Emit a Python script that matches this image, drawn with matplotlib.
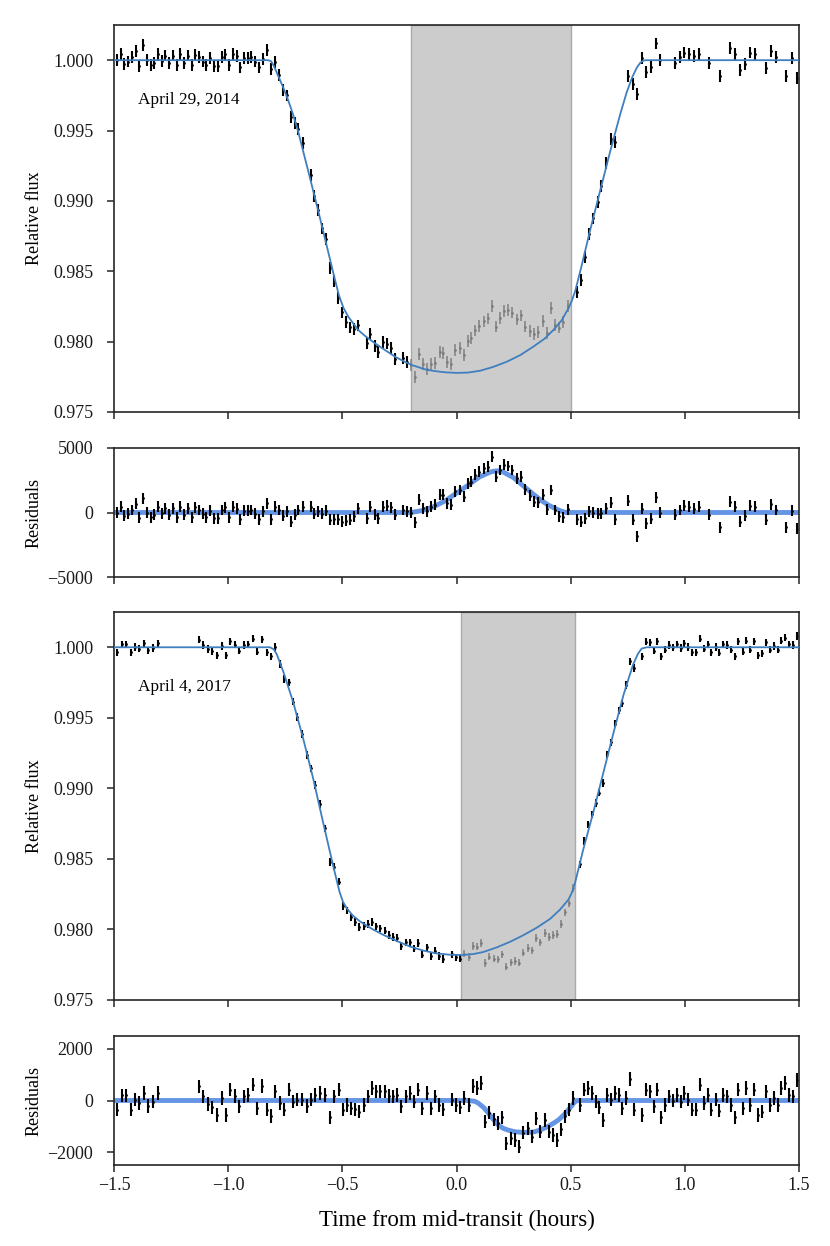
import numpy as np
import matplotlib
matplotlib.use('Agg')
import matplotlib.pyplot as plt
from matplotlib.ticker import FormatStrFormatter

plt.rcParams['font.family'] = ['Liberation Serif', 'DejaVu Serif']
plt.rcParams['axes.unicode_minus'] = True

# ---------------- Night 1: April 29, 2014 ----------------
n1_minutes = [-89.3, -88.25, -87.3, -86.2, -85.4, -84.3, -83.3, -82.4, -81.3, -80.4,
              -79.4, -78.4, -77.5, -76.5, -75.5, -74.5, -73.5, -72.6, -71.6, -70.6,
              -69.6, -68.7, -67.7, -66.7, -65.7, -64.7, -63.7, -62.7, -61.7, -60.8,
              -59.8, -58.8, -57.8, -56.8, -55.8, -54.9, -53.9, -52.9, -51.9, -50.8,
              -49.7, -48.7, -47.7, -46.6, -45.7, -44.6, -43.6, -42.5, -41.6, -40.4,
              -38.3, -37.4, -36.3, -35.3, -34.4, -33.2, -32.3, -31.2, -30.2,
              -28.95, -27.9, -26.85, -25.8, -23.6, -22.6, -21.4, -20.5, -19.3, -18.35,
              -17.3, -16.2, -14.0, -12.9, -11.9, -10.9, -9.8, -8.7, -7.7, -6.6,
              -5.6, -4.4, -3.5, -2.4, -1.4, -0.3, 0.8, 1.9, 2.9, 3.9,
              4.9, 6.0, 7.1, 8.2, 9.3, 10.4, 11.5, 12.6, 13.6, 14.7,
              15.8, 16.9, 18.0, 19.3, 20.4, 21.4, 22.6, 23.7, 24.8, 25.9,
              27.0, 28.1, 29.2,
              31.6, 32.6, 33.8, 34.8, 35.9, 37.1, 38.1, 39.3, 40.5, 41.6,
              45.1, 46.3, 47.4, 48.7, 49.9, 51.1, 52.3, 53.6, 57.4, 58.7,
              59.9, 61.2, 62.5, 63.8, 66.4, 69.2, 71.9, 73.2, 74.6, 75.9,
              77.2, 78.5, 81.2, 82.6, 83.9, 86.7, 88.1, 89.5]
n1_resid = [0, 460, -260, -100, 200, 670, -390, 1100, 0, -360,
            -180, 460, -50, 330, -180, 330, -360, 460, -180, 330,
            -360, 390, 200, -100, -360, 130, -440, -440, 200, 410,
            -360, 460, 280, -520, 130, 150, 200, -100, -520, 80,
            720, -520, 460, 200, -260, 80, -700, -180, 200, 460,
            460, -100, 80, -100, 150, -570, -520, -520, -700,
            -650, -570, -310, 330, -440, 460, -180, -440, 460, 540,
            390, -180, 200, 80, 0, -770, 980, 330, 80, 460,
            590, 1370, 1370, 720, 590, 1630, 1750, 1240, 2270, 2400,
            2920, 3170, 3430, 3560, 4330, 2790, 3300, 3690, 3610, 3300,
            2660, 2790, 1810, 1290, 850, 800, 1370, 260, 1750, 200,
            -310, -360, 260,
            -520, -700, -440, 80, 0, -100, -50, 330, 770, -520,
            900, -570, -1860, 280, -830, -490, 1190, 0, -180, 200,
            540, 460, 280, 460, -180, -1140, 850, 460, -700, -260,
            540, 460, -570, 650, 200, -1140, 150, -1270]
n1_err = 420  # ppm

n1_model_t = [-1.5, -0.825, -0.812, -0.80, -0.78, -0.76, -0.737, -0.715, -0.693, -0.649,
              -0.605, -0.561, -0.535, -0.515, -0.495, -0.474, -0.45, -0.43, -0.40, -0.357,
              -0.31, -0.269, -0.23, -0.196, -0.16, -0.138, -0.10, -0.05, 0.0, 0.05,
              0.103, 0.16, 0.22, 0.28, 0.336, 0.385, 0.424, 0.46, 0.49, 0.505,
              0.52, 0.545, 0.585, 0.628, 0.672, 0.716, 0.745, 0.770, 0.790, 0.805,
              0.818, 0.83, 1.5]
n1_model_f = [1.0, 1.0, 0.99992, 0.99960, 0.99885, 0.99810, 0.99715, 0.99610, 0.99490, 0.99210,
              0.98925, 0.98632, 0.98458, 0.98330, 0.98240, 0.98177, 0.98125, 0.98082, 0.98040, 0.97988,
              0.97937, 0.97893, 0.97860, 0.97834, 0.97815, 0.97803, 0.97792, 0.97782, 0.97778, 0.97780,
              0.97793, 0.97820, 0.97857, 0.97905, 0.97964, 0.98020, 0.98082, 0.98150, 0.98236, 0.98290,
              0.98360, 0.98520, 0.98790, 0.99065, 0.99345, 0.99610, 0.99770, 0.99880, 0.99948, 0.99982,
              0.99997, 1.0, 1.0]
n1_spot_t = [-1.5, -0.21, -0.19, -0.15, -0.1, -0.05, 0.0, 0.05, 0.1, 0.15, 0.175, 0.2,
             0.25, 0.3, 0.34, 0.37, 0.4, 0.43, 0.455, 0.475, 0.49, 1.5]
n1_spot_r = [0, 0, 30, 150, 450, 900, 1500, 2100, 2750, 3150, 3230, 3180,
             2700, 1950, 1370, 950, 600, 330, 130, 20, 0, 0]
n1_span = (-0.2, 0.5)
n1_label = 'April 29, 2014'

# ---------------- Night 2: April 4, 2017 ----------------
n2_minutes = [-89.1, -88.0, -86.8, -85.6, -84.5, -83.3, -82.1, -81.0, -79.7, -78.5,
              -67.6, -66.5, -65.4, -64.2, -63.0, -61.7, -60.6, -59.4, -58.3, -57.1,
              -55.9, -54.7, -53.6, -52.3, -51.2, -49.9, -48.8, -47.6, -46.4, -45.3,
              -44.1, -43.0, -41.8, -40.6, -39.4, -38.3, -37.1, -35.9, -34.5, -33.2,
              -32.2, -31.0, -29.9, -28.9,
              -27.8, -26.7, -25.5, -24.4, -23.3, -22.2, -21.1, -20.0, -18.9, -17.7,
              -16.7, -15.6, -14.5, -13.4, -12.3, -11.2, -10.1, -9.0, -7.8, -6.7,
              -5.7, -4.5, -3.5, -1.3, -0.1, 0.9, 2.1, 3.2, 4.3, 5.4,
              6.4, 7.6, 8.6, 9.8, 10.9, 11.9, 13.1, 14.2, 15.4, 16.4,
              17.6, 18.7, 19.8, 20.9, 22.0, 23.2, 24.2, 25.4, 26.4, 27.5,
              28.5, 29.6, 30.6,
              32.5, 33.5, 34.6, 35.5, 36.6, 37.5, 38.6, 39.6, 40.6, 41.6,
              42.6, 43.6, 44.6, 45.7, 46.6, 48.7, 49.7, 50.8, 51.8, 52.8,
              53.8, 54.8, 55.8, 56.9, 57.9, 58.9, 59.9, 60.9, 61.9, 62.9,
              64.0, 65.0, 66.1, 67.0, 68.1, 69.1, 70.1, 71.1, 72.1, 73.2,
              74.1, 75.2, 76.2, 77.2, 78.3, 79.3, 80.4, 81.3, 82.4, 83.3,
              84.4, 85.4, 86.4, 87.5, 88.5, 89.6]
n2_resid = [-360, 200, 200, -360, 30, -100, 290, -210, -40, 290,
            550, 160, -130, -260, -560, 90, -560, 420, 180, -230,
            160, 220, 610, -300, 570, -360, -600, 350, -100, -360,
            420, -40, 30, 30, -210, 30, 220, 290, 220, -650,
            160, 420, -360, -170,
            -300, -340, -430, -170, 160, 480, 350, 350, 350, 180,
            160, 220, -230, 160, 290, -40, 420, -300, 290, -300,
            160, -170, -340, 30, -170, -260, 90, -170, 570, 480,
            680, -820, -470, -730, -880, -650, -1660, -1470, -1530, -1790,
            -1250, -1080, -1400, -690, -1210, -750, -1210, -1340, -1530, -1120,
            -620, -360, 90,
            -170, 420, 480, 290, -40, -260, -750, 220, 30, 290,
            220, -300, 90, 830, -360, -560, 420, 350, -230, 420,
            -650, -170, 160, 0, 220, -40, 290, 30, -360, -360,
            610, -100, 220, -360, 30, -390, 220, 160, -170, -650,
            420, -300, 480, -170, 420, -560, -430, 350, -170, 90,
            -170, 480, 680, 220, 160, 800]
n2_err = 260  # ppm

n2_model_t = [-1.5, -0.817, -0.800, -0.787, -0.758, -0.715, -0.671, -0.627, -0.583, -0.540,
              -0.512, -0.497, -0.481, -0.455, -0.423, -0.37, -0.321, -0.26, -0.204, -0.145,
              -0.087, -0.03, 0.03, 0.075, 0.117, 0.175, 0.234, 0.29, 0.351, 0.41,
              0.453, 0.49, 0.505, 0.519, 0.555, 0.599, 0.643, 0.687, 0.731, 0.755,
              0.774, 0.795, 0.811, 0.833, 1.5]
n2_model_f = [1.0, 1.0, 0.99985, 0.99950, 0.99825, 0.99610, 0.99350, 0.99065, 0.98750, 0.98450,
              0.98265, 0.98195, 0.98151, 0.98100, 0.98057, 0.98004, 0.97962, 0.97917, 0.97879, 0.97850,
              0.97830, 0.97821, 0.97819, 0.97826, 0.97840, 0.97872, 0.97912, 0.97957, 0.98012, 0.98075,
              0.98140, 0.98211, 0.98260, 0.98329, 0.98566, 0.98830, 0.99110, 0.99390, 0.99660, 0.99785,
              0.99880, 0.99955, 0.99991, 1.0, 1.0]
n2_spot_t = [-1.5, 0.05, 0.08, 0.095, 0.12, 0.14, 0.16, 0.183, 0.205, 0.227, 0.255, 0.285,
             0.315, 0.343, 0.37, 0.40, 0.425, 0.447, 0.47, 0.49, 0.505, 0.515, 0.527, 1.5]
n2_spot_r = [0, 0, -30, -100, -280, -490, -720, -950, -1080, -1150, -1210, -1235,
             -1235, -1210, -1130, -1010, -880, -750, -560, -360, -200, -80, 0, 0]
n2_span = (0.02, 0.52)
n2_label = 'April 4, 2017'

flux_yticks = [0.975, 0.980, 0.985, 0.990, 0.995, 1.000]
x_ticks = [-1.5, -1.0, -0.5, 0.0, 0.5, 1.0, 1.5]

# ---------------- figure ----------------
FW, FH = 830, 1246
fig = plt.figure(figsize=(FW / 100, FH / 100), dpi=100)


def rect(top, bottom, left=114, right=799):
    return [left / FW, 1 - bottom / FH, (right - left) / FW, (bottom - top) / FH]


ax1 = fig.add_axes(rect(25, 412))
ax2 = fig.add_axes(rect(448, 577))
ax3 = fig.add_axes(rect(612, 1000))
ax4 = fig.add_axes(rect(1036, 1165))

TXT = 13
SPINE = '#262626'
MODEL_C = '#3f7fbf'
SPOT_C = '#5b8fe3'


def style(ax):
    for s in ax.spines.values():
        s.set_linewidth(1.2)
        s.set_color(SPINE)
    ax.tick_params(direction='out', length=5, width=1.1, color=SPINE,
                   labelsize=TXT, labelcolor='#1a1a1a', top=False, right=False)
    ax.tick_params(axis='y', pad=10)
    ax.tick_params(axis='x', pad=4)
    ax.set_xlim(-1.5, 1.5)
    ax.set_xticks(x_ticks)


def draw_night(axf, axr, minutes, resid, err, mt, mf, st, sr, span, label, rlim, rticks):
    t = np.array(minutes) / 60.0
    r = np.array(resid, dtype=float)
    model = np.interp(t, mt, mf)
    flux = model + r * 1e-6
    inside = (t > span[0]) & (t < span[1])

    axf.axvspan(span[0], span[1], facecolor='#cccccc', edgecolor='#aaaaaa', lw=1.0, zorder=0)
    axf.errorbar(t[~inside], flux[~inside], yerr=err * 1e-6, fmt='.', color='k', ms=2,
                 elinewidth=1.5, capsize=0, zorder=2)
    axf.errorbar(t[inside], flux[inside], yerr=err * 1e-6, fmt='.', color='#7a7a7a', ms=2,
                 elinewidth=1.2, capsize=0, alpha=0.85, zorder=2)
    axf.plot(mt, mf, color=MODEL_C, lw=1.3, zorder=3, solid_joinstyle='round')
    axf.set_ylim(0.975, 1.0025)
    axf.set_yticks(flux_yticks)
    axf.yaxis.set_major_formatter(FormatStrFormatter('%.3f'))
    axf.text(-1.395, 0.99716, label, fontsize=12.4, va='center', ha='left')
    axf.set_ylabel('Relative flux', fontsize=TXT)
    axf.yaxis.set_label_coords(-0.104, 0.5)
    style(axf)
    axf.tick_params(labelbottom=False)

    axr.plot(st, sr, color=SPOT_C, lw=3.5, alpha=0.95, zorder=1, solid_capstyle='butt',
             solid_joinstyle='round')
    axr.errorbar(t, r, yerr=err, fmt='.', color='k', ms=2, elinewidth=1.5, capsize=0, zorder=2)
    axr.set_ylim(*rlim)
    axr.set_yticks(rticks)
    axr.set_ylabel('Residuals', fontsize=TXT)
    axr.yaxis.set_label_coords(-0.104, 0.5)
    style(axr)


draw_night(ax1, ax2, n1_minutes, n1_resid, n1_err, n1_model_t, n1_model_f,
           n1_spot_t, n1_spot_r, n1_span, n1_label, (-5000, 5000), [-5000, 0, 5000])
draw_night(ax3, ax4, n2_minutes, n2_resid, n2_err, n2_model_t, n2_model_f,
           n2_spot_t, n2_spot_r, n2_span, n2_label, (-2500, 2500), [-2000, 0, 2000])

ax2.tick_params(labelbottom=False)
ax4.set_xticklabels(['\u22121.5', '\u22121.0', '\u22120.5', '0.0', '0.5', '1.0', '1.5'])
ax4.set_xlabel('Time from mid-transit (hours)', fontsize=16.5, labelpad=11)

fig.savefig('out.png', dpi=100)
